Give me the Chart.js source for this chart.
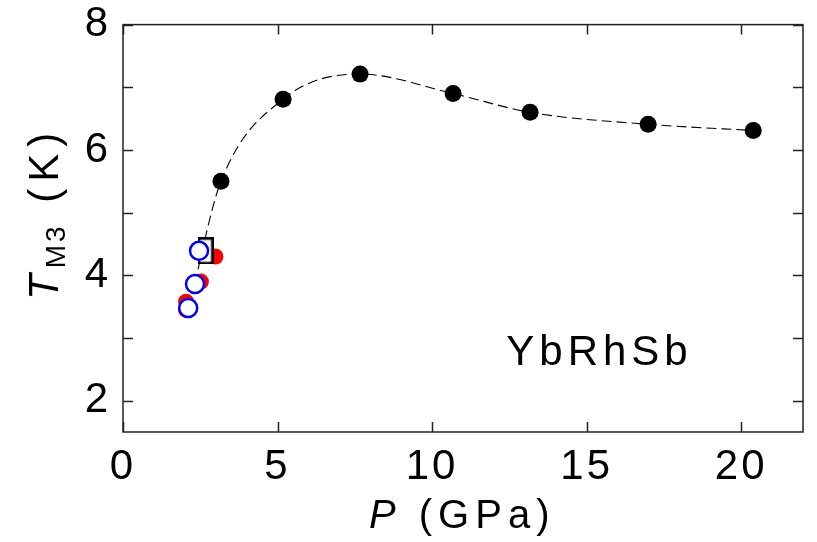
<!DOCTYPE html>
<html>
<head>
<meta charset="UTF-8">
<script src="https://cdn.jsdelivr.net/npm/chart.js"></script>
<style>
  html, body { margin: 0; padding: 0; background: #fff; }
  #wrap { width: 817px; height: 542px; }
</style>
</head>
<body>
<div id="wrap"><canvas id="chart" width="817" height="542"></canvas></div>
<script>
  // data
  const blackP = [3.17, 5.18, 7.67, 10.68, 13.17, 16.99, 20.39];
  const blackT = [5.50, 6.81, 7.21, 6.90, 6.60, 6.41, 6.31];
  const redP = [2.04, 2.04, 2.52, 2.99];
  const redT = [3.45, 3.58, 3.90, 4.30];
  const blueP = [2.11, 2.33, 2.46];
  const blueT = [3.48, 3.86, 4.39];
  const squareP = [2.67];
  const squareT = [4.39];
  // dashed guide line
  const fitP = [2.33, 2.56, 3.17, 5.18, 7.67, 10.68, 13.17, 16.99, 20.39];
  const fitT = [3.86, 4.39, 5.50, 6.81, 7.21, 6.90, 6.60, 6.41, 6.31];

  const xTicks = [0, 5, 10, 15, 20];
  const yTicks = [2, 4, 6, 8];
  const yMinor = [3, 5, 7];

  const FONT = "'Liberation Sans', Arial, sans-serif";
  Chart.defaults.font.family = FONT;
  Chart.defaults.color = '#000';

  const pts = (xs, ys) => xs.map((x, i) => ({ x: x, y: ys[i] }));

  // open box marker (drawn a bit taller than wide, as in the figure)
  const box = document.createElement('canvas');
  box.width = 16; box.height = 27;
  (function () {
    const c = box.getContext('2d');
    c.fillStyle = '#fff';
    c.fillRect(0, 0, 16, 27);
    c.strokeStyle = '#000';
    c.lineWidth = 2.5;
    c.strokeRect(1.25, 1.25, 13.5, 24.5);
  })();

  // frame, inward ticks, axis titles, compound label
  const decor = {
    id: 'decor',
    beforeDraw(chart) {
      chart.ctx.letterSpacing = '3px';
    },
    afterDraw(chart) {
      const ctx = chart.ctx;
      const a = chart.chartArea;
      const xs = chart.scales.x, ys = chart.scales.y;
      ctx.save();
      ctx.letterSpacing = '0px';
      ctx.strokeStyle = '#222';
      ctx.lineWidth = 1.5;
      ctx.strokeRect(a.left, a.top, a.right - a.left, a.bottom - a.top);
      ctx.beginPath();
      xTicks.forEach(v => {
        const px = Math.round(xs.getPixelForValue(v)) + 0.5;
        ctx.moveTo(px, a.bottom); ctx.lineTo(px, a.bottom - 10);
        ctx.moveTo(px, a.top); ctx.lineTo(px, a.top + 10);
      });
      yTicks.concat(yMinor).forEach(v => {
        const py = Math.round(ys.getPixelForValue(v)) + 0.5;
        ctx.moveTo(a.left, py); ctx.lineTo(a.left + 10, py);
        ctx.moveTo(a.right, py); ctx.lineTo(a.right - 10, py);
      });
      ctx.stroke();

      ctx.fillStyle = '#000';
      ctx.textBaseline = 'alphabetic';
      ctx.textAlign = 'left';
      ctx.letterSpacing = '6px';

      // x title
      let x = 369;
      ctx.font = 'italic 40px ' + FONT;
      ctx.fillText('P', x, 528);
      x += ctx.measureText('P').width;
      ctx.font = '40px ' + FONT;
      ctx.fillText(' (GPa)', x, 528);

      // y title
      ctx.save();
      ctx.translate(58, 300);
      ctx.rotate(-Math.PI / 2);
      x = 0;
      ctx.letterSpacing = '6px';
      ctx.font = 'italic 42px ' + FONT;
      ctx.fillText('T', x, 0);
      x += ctx.measureText('T').width;
      ctx.letterSpacing = '3px';
      ctx.font = '28px ' + FONT;
      ctx.fillText('M3', x, 7);
      x += ctx.measureText('M3').width + 2;
      ctx.letterSpacing = '7px';
      ctx.font = '42px ' + FONT;
      ctx.fillText(' (K)', x, 0);
      ctx.restore();

      // compound name
      ctx.font = '42px ' + FONT;
      ctx.letterSpacing = '5px';
      ctx.fillText('YbRhSb', xs.getPixelForValue(12.4), ys.getPixelForValue(2.57));
      ctx.restore();
    }
  };

  new Chart(document.getElementById('chart'), {
    type: 'scatter',
    data: {
      datasets: [
        {
          data: pts(blueP, blueT),
          pointRadius: 9, pointBorderWidth: 2.5,
          pointBorderColor: '#0000ff', pointBackgroundColor: '#fff',
          order: 1
        },
        {
          data: pts(squareP, squareT),
          pointStyle: box, pointRadius: 10,
          order: 2
        },
        {
          data: pts(redP, redT),
          pointRadius: 8, pointBorderWidth: 0,
          pointBackgroundColor: '#ff0000',
          order: 3
        },
        {
          data: pts(blackP, blackT),
          pointRadius: 8.5, pointBorderWidth: 0,
          pointBackgroundColor: '#000',
          order: 4
        },
        {
          data: pts(fitP, fitT),
          showLine: true, pointRadius: 0,
          borderColor: '#000', borderWidth: 1.1, borderDash: [10, 5],
          cubicInterpolationMode: 'monotone',
          order: 5
        }
      ]
    },
    options: {
      responsive: false,
      animation: false,
      events: [],
      layout: { padding: { top: 0, right: 14, left: 0, bottom: 0 } },
      plugins: { legend: { display: false }, tooltip: { enabled: false } },
      scales: {
        x: {
          type: 'linear', min: 0, max: 22,
          grid: { display: false, drawTicks: false },
          border: { display: false },
          ticks: { padding: 10, maxRotation: 0, autoSkip: false, font: { size: 42 } },
          afterBuildTicks: s => { s.ticks = xTicks.map(v => ({ value: v })); },
          afterFit: s => { s.height = 110; }
        },
        y: {
          min: 1.5, max: 8,
          grid: { display: false, drawTicks: false },
          border: { display: false },
          ticks: { padding: 12, autoSkip: false, font: { size: 42, lineHeight: 0.6 } },
          afterBuildTicks: s => { s.ticks = yTicks.map(v => ({ value: v })); },
          afterFit: s => { s.width = 123; }
        }
      }
    },
    plugins: [decor]
  });
</script>
</body>
</html>
